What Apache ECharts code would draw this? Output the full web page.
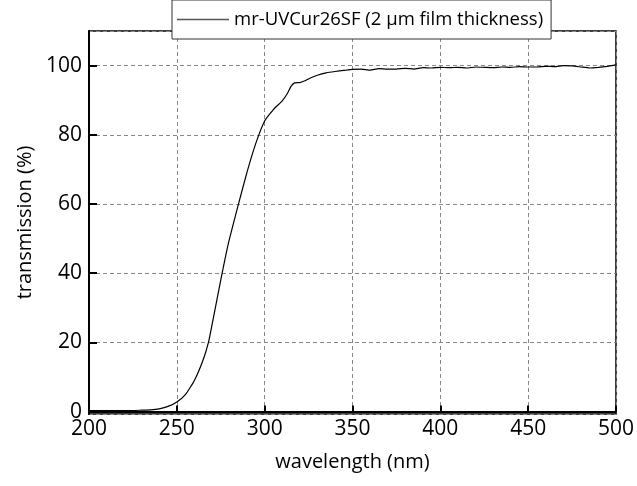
<!DOCTYPE html>
<html>
<head>
<meta charset="utf-8">
<script src="https://cdn.jsdelivr.net/npm/echarts@6/dist/echarts.min.js"></script>
<style>html,body{margin:0;padding:0;background:#fff}#c{width:637px;height:486px}</style>
</head>
<body>
<div id="c"></div>
<script>
const seriesName = 'mr-UVCur26SF (2 \u03bcm film thickness)';
const wavelength = [200,205,210,215,220,225,230,235,240,245,250,255,260,265,268,270,275,278,280,285,290,295,300,305,310,313,315,317,320,323,326,330,335,340,345,350,355,360,365,370,375,380,385,390,395,400,405,410,415,420,425,430,435,440,445,450,455,460,465,470,475,480,485,490,495,500];
const transmission = [0.3,0.3,0.3,0.3,0.3,0.3,0.4,0.5,0.8,1.5,2.8,5.0,9.0,15.0,20.0,25.0,38,45.5,50,59.8,69.3,77.6,84,87.3,89.8,92.0,94,95,95.1,95.6,96.4,97.2,97.9,98.3,98.6,98.9,99.0,98.7,99.1,99.0,99.0,99.2,99.0,99.4,99.3,99.5,99.4,99.5,99.3,99.6,99.5,99.4,99.6,99.5,99.7,99.6,99.6,99.8,99.7,100.0,99.9,99.6,99.3,99.5,99.8,100.2];
const xTicks = {min: 200, max: 500, step: 50};
const yRange = {min: -0.7, max: 110};

const font = 'Open Sans';
const chart = echarts.init(document.getElementById('c'), null, {renderer: 'canvas'});
chart.setOption({
  animation: false,
  backgroundColor: '#fff',
  textStyle: {fontFamily: font},
  grid: {left: 89, right: 20, top: 31, bottom: 72, show: true, borderColor: '#000', borderWidth: 1.5, backgroundColor: 'transparent'},
  legend: {
    show: true,
    data: [{name: seriesName, icon: 'rect'}], left: 172, top: 0, itemWidth: 52, itemHeight: 1.3, itemGap: 0,
    padding: [10, 8, 10, 5], backgroundColor: '#fff', borderColor: '#333', borderWidth: 1,
    textStyle: {fontFamily: font, fontSize: 18.5, color: '#000'},
    itemStyle: {color: '#555', borderWidth: 0}
  },
  xAxis: {
    type: 'value', min: xTicks.min, max: xTicks.max, interval: xTicks.step,
    name: 'wavelength (nm)', nameLocation: 'middle', nameGap: 38,
    nameTextStyle: {fontFamily: font, fontSize: 20, color: '#000'},
    axisLine: {lineStyle: {color: '#000', width: 2}},
    axisTick: {inside: true, length: 6, lineStyle: {color: '#000', width: 2}},
    axisLabel: {fontFamily: font, fontSize: 21, color: '#000', margin: 5},
    splitLine: {show: true, lineStyle: {color: '#888', type: [4, 3], width: 1}}
  },
  yAxis: {
    type: 'value', min: yRange.min, max: yRange.max,
    name: 'transmission (%)', nameLocation: 'middle', nameGap: 50,
    nameTextStyle: {fontFamily: font, fontSize: 20, color: '#000'},
    axisLine: {lineStyle: {color: '#000', width: 2}},
    axisTick: {inside: true, length: 8, lineStyle: {color: '#000', width: 2}},
    axisLabel: {fontFamily: font, fontSize: 21, color: '#000', margin: 7, showMinLabel: false, showMaxLabel: false},
    splitLine: {show: true, lineStyle: {color: '#888', type: [4, 3], width: 1}}
  },
  series: [{
    name: seriesName, type: 'line', showSymbol: false, smooth: 0.15,
    data: wavelength.map((w, i) => [w, transmission[i]]),
    lineStyle: {color: '#000', width: 1.2}, itemStyle: {color: '#000'}
  }]
});
</script>
</body>
</html>
